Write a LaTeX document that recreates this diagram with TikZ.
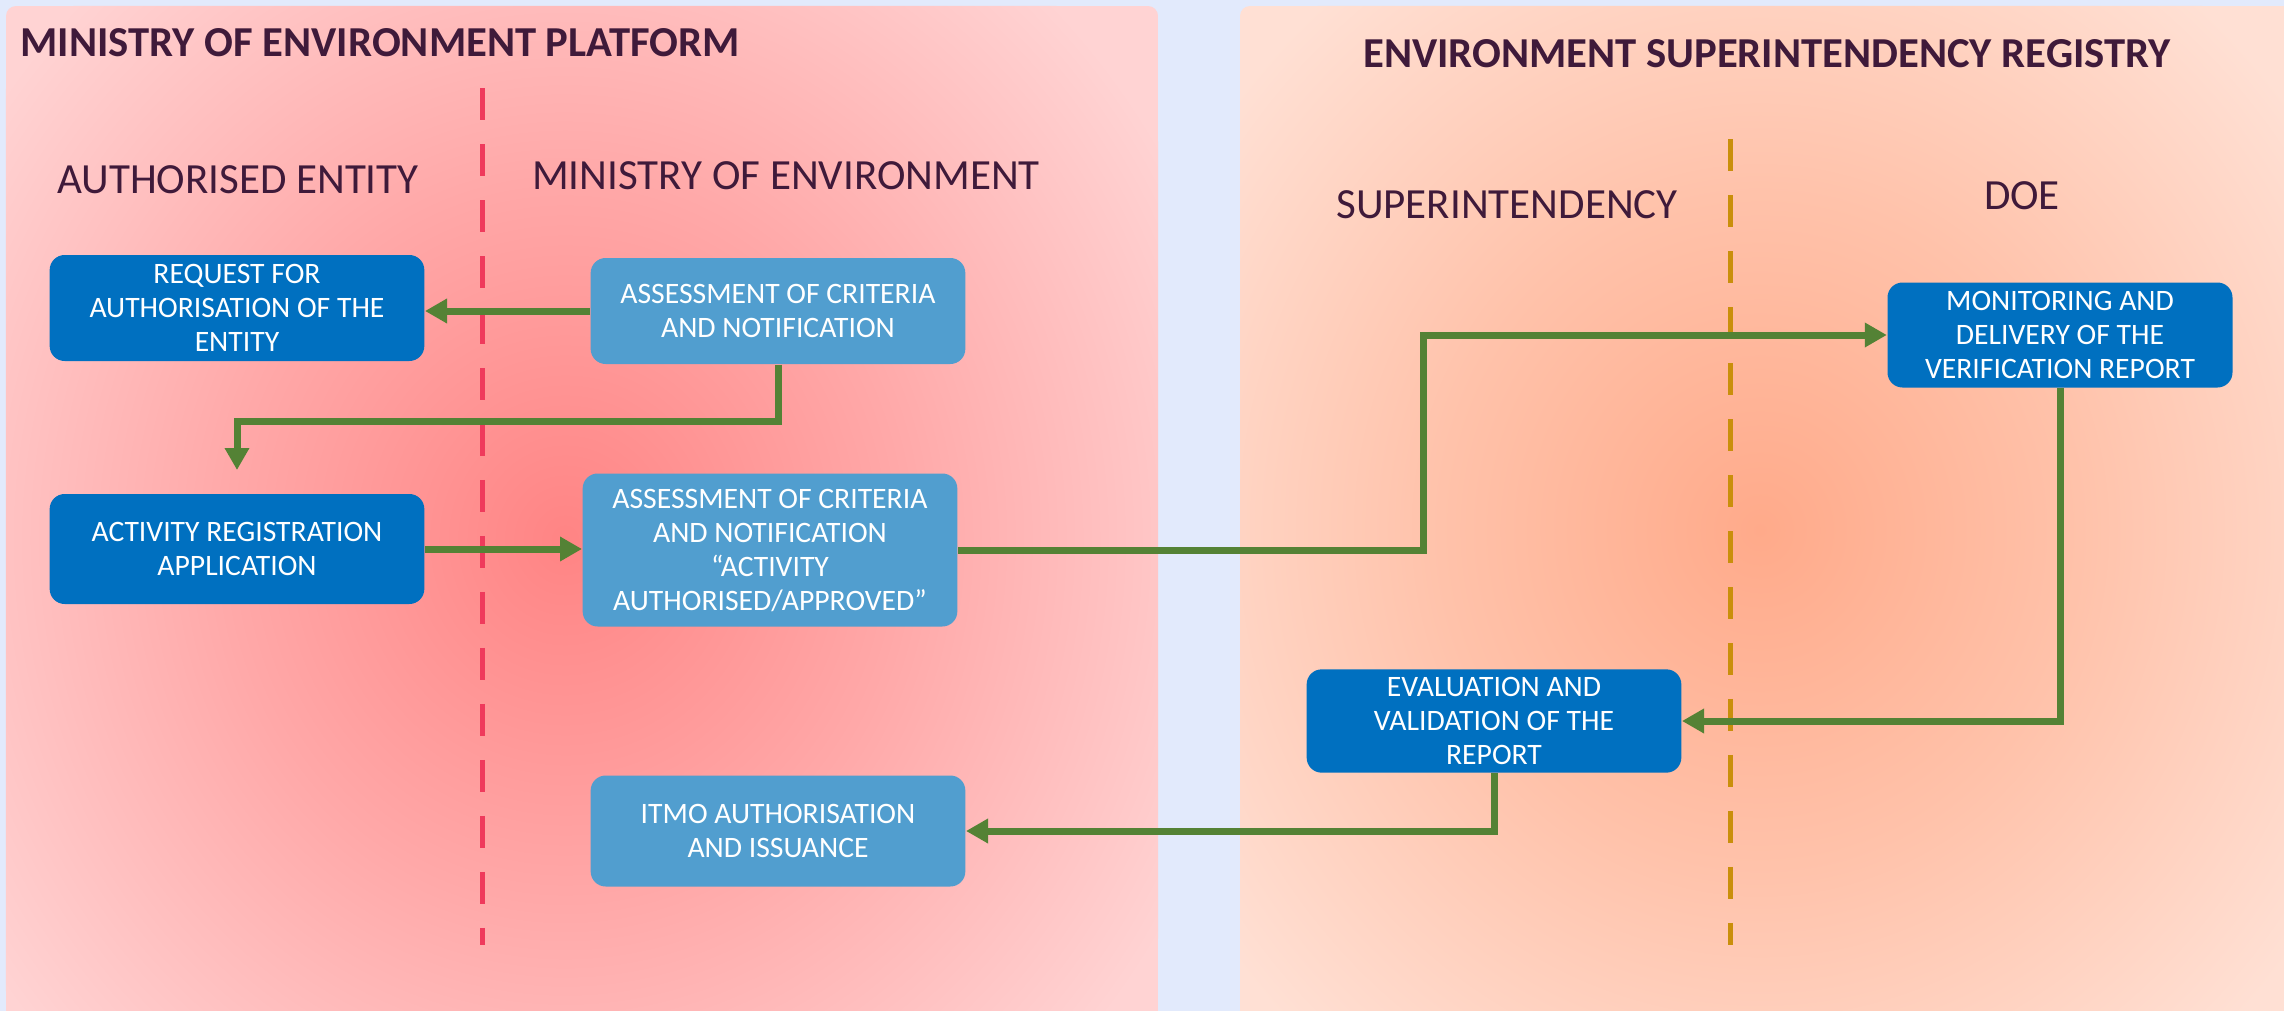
\documentclass[tikz,border=0pt]{standalone}
\usepackage{fontspec}
\setmainfont{Carlito}
\usetikzlibrary{arrows.meta}
\definecolor{boxdark}{HTML}{0070C0}
\definecolor{boxlight}{HTML}{519ECF}
\definecolor{flowgreen}{HTML}{548235}
\definecolor{ink}{HTML}{3F1A3A}
\definecolor{laneRed}{HTML}{EF3A5C}
\definecolor{laneGold}{HTML}{C98F0C}
\definecolor{skyback}{HTML}{E2EAFC}
\definecolor{redCore}{HTML}{FF8484}
\definecolor{redMid}{HTML}{FFA8A8}
\definecolor{redEdge}{HTML}{FFD3D3}
\definecolor{peachCore}{HTML}{FFAA8A}
\definecolor{peachMid}{HTML}{FFC2AA}
\definecolor{peachEdge}{HTML}{FFE0D4}
\pgfdeclareradialshading{glowRed}{\pgfpointorigin}{color(0bp)=(redCore); color(12bp)=(redMid); color(25bp)=(redEdge); color(50bp)=(redEdge)}
\pgfdeclareradialshading{glowPeach}{\pgfpointorigin}{color(0bp)=(peachCore); color(12bp)=(peachMid); color(25bp)=(peachEdge); color(50bp)=(peachEdge)}
\begin{document}
\begin{tikzpicture}[x=0.3pt,y=-0.3pt,
  box/.style={rectangle, rounded corners=4.5pt, fill=boxdark, text=white, align=center,
    font=\fontsize{8.9}{10.2}\selectfont, inner sep=0pt, minimum width=112.4pt},
  lightbox/.style={box, fill=boxlight},
  flow/.style={draw=flowgreen, line width=2.1pt, -{Triangle[length=6.6pt,width=7pt]}},
  lane/.style={text=ink, inner sep=0pt, font=\fontsize{12.9}{15}\selectfont},
  title/.style={text=ink, inner sep=0pt, font=\bfseries\fontsize{12.8}{15}\selectfont},
  divide/.style={line width=1.5pt, dash pattern=on 9.5pt off 7.3pt}]
\useasboundingbox (0,0) rectangle (2284,1011);
\fill[skyback] (0,0) rectangle (2284,1011);
% Platform panels
\begin{scope}
\clip[rounded corners=3pt] (6,6) rectangle (1158,1040);
\fill[redEdge] (6,6) rectangle (1158,1040);
\shade[shading=glowRed] (565,540) ellipse [x radius=210pt, y radius=225pt];
\end{scope}
\begin{scope}
\clip[rounded corners=3pt] (1240,6) rectangle (2300,1040);
\fill[peachEdge] (1240,6) rectangle (2300,1040);
\shade[shading=glowPeach] (1760,530) ellipse [x radius=200pt, y radius=210pt];
\end{scope}
% Titles and lanes
\node[title, anchor=west] (platform) at (20,43) {MINISTRY OF ENVIRONMENT PLATFORM};
\node[title] (registry) at (1767,54) {ENVIRONMENT SUPERINTENDENCY REGISTRY};
\node[lane] (entity) at (238,180) {AUTHORISED ENTITY};
\node[lane] (ministry) at (786,176) {MINISTRY OF ENVIRONMENT};
\node[lane] (superint) at (1507,205) {SUPERINTENDENCY};
\node[lane] (doe) at (2022,196) {DOE};
\draw[divide, laneRed] (482,88) -- (482,945);
\draw[divide, laneGold] (1730,139) -- (1730,945);
% Steps
\node[box, minimum height=31.8pt] (reqauth) at (237,308) {REQUEST FOR\\AUTHORISATION OF THE\\ENTITY};
\node[lightbox, minimum height=31.8pt] (assess1) at (778,311) {ASSESSMENT OF CRITERIA\\AND NOTIFICATION};
\node[box, minimum height=33pt] (actreg) at (237,549) {ACTIVITY REGISTRATION\\APPLICATION};
\node[lightbox, minimum height=45.9pt] (assess2) at (770,550) {ASSESSMENT OF CRITERIA\\AND NOTIFICATION\\“ACTIVITY\\AUTHORISED/APPROVED”};
\node[box, minimum width=103.5pt, minimum height=31.5pt] (monitor) at (2060,335) {MONITORING AND\\DELIVERY OF THE\\VERIFICATION REPORT};
\node[box, minimum height=31pt] (evalrep) at (1494,721) {EVALUATION AND\\VALIDATION OF THE\\REPORT};
\node[lightbox, minimum height=33.3pt] (itmo) at (778,831) {ITMO AUTHORISATION\\AND ISSUANCE};
% Flow
\coordinate (jog) at (1423,0);
\draw[flow] (assess1.west) -- (assess1.west -| reqauth.east);
\draw[flow] (assess1.south) -- ++(0,57) -| ([yshift=7pt]actreg.north);
\draw[flow] (actreg.east) -- (actreg.east -| assess2.west);
\draw[flow] (assess2.east) -| (jog |- monitor.west) -- (monitor.west);
\draw[flow] (monitor.south) |- (evalrep.east);
\draw[flow] (evalrep.south) |- (itmo.east);
\end{tikzpicture}
\end{document}
